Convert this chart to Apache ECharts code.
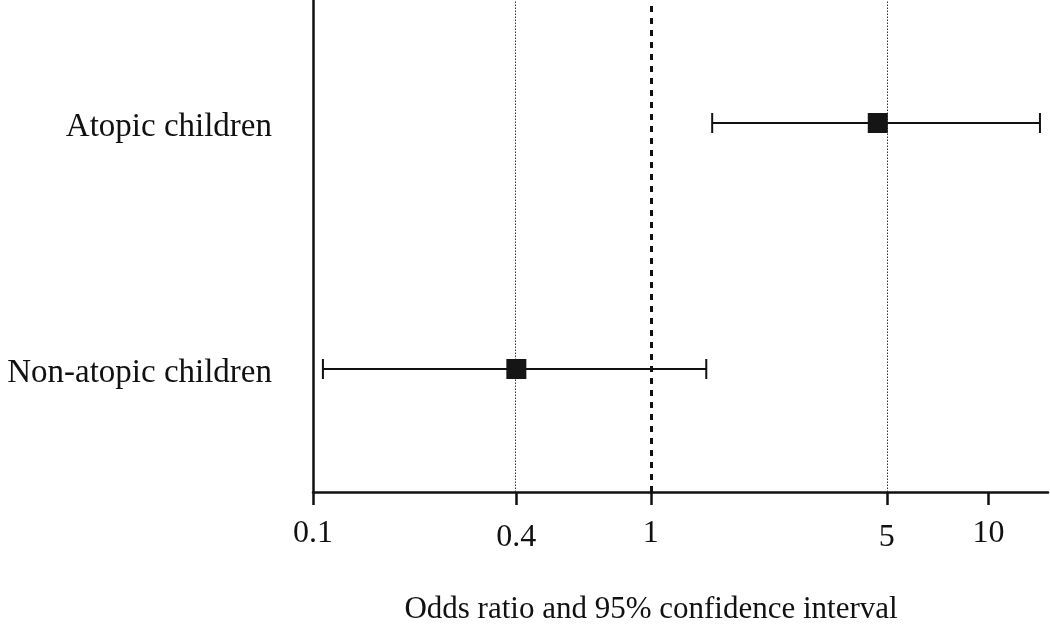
<!DOCTYPE html>
<html>
<head>
<meta charset="utf-8">
<script src="https://cdn.jsdelivr.net/npm/echarts@6/dist/echarts.min.js"></script>
<style>html,body{margin:0;padding:0;background:#fff}#c{width:1050px;height:625px}</style>
</head>
<body>
<div id="c"></div>
<script>
// Data (bottom to top)
const categories = ['Non-atopic children', 'Atopic children'];
const oddsRatio = [0.40, 4.7];
const ciLower = [0.107, 1.52];
const ciUpper = [1.46, 14.2];
const tickValues = [0.1, 0.4, 1, 5, 10];
const tickLabels = ['0.1', '0.4', '1', '5', '10'];
const loweredTicks = ['0.4', '5'];
const dottedRefs = [0.4, 5];
const dashedRefs = [1];
const axisMin = 0.1, axisMax = 15;
const xTitle = 'Odds ratio and 95% confidence interval';

const L = Math.log10;
const FONT = 'Liberation Serif';
const INK = '#111';

const chart = echarts.init(document.getElementById('c'), null, {renderer: 'canvas'});

const errData = categories.map((c, i) => [L(ciLower[i]), L(ciUpper[i]), i]);
const ptData = categories.map((c, i) => [L(oddsRatio[i]), i]);

const markLines = [];
dottedRefs.forEach(v => markLines.push({xAxis: L(v), lineStyle: {type: [1.5, 1.5], width: 1, color: '#333'}}));
dashedRefs.forEach(v => markLines.push({xAxis: L(v), lineStyle: {type: [6, 6], width: 3, color: INK}}));

chart.setOption({
  animation: false,
  backgroundColor: '#fff',
  grid: {left: 313, right: 2, top: 0, bottom: 133, containLabel: false},
  xAxis: {
    type: 'value',
    min: L(axisMin),
    max: L(axisMax),
    splitLine: {show: false},
    axisLine: {show: true, onZero: false, lineStyle: {color: INK, width: 2.5}},
    axisTick: {show: true, customValues: tickValues.map(L), length: 13, lineStyle: {color: INK, width: 2.5}},
    axisLabel: {
      customValues: tickValues.map(L),
      margin: 26,
      fontFamily: FONT, fontSize: 32, color: INK,
      formatter: function (v) {
        let best = 0, bd = Infinity;
        tickValues.forEach((t, i) => { const d = Math.abs(L(t) - v); if (d < bd) { bd = d; best = i; } });
        const lab = tickLabels[best];
        return loweredTicks.indexOf(lab) >= 0 ? '{lo|' + lab + '}' : '{hi|' + lab + '}';
      },
      rich: {
        hi: {fontFamily: FONT, fontSize: 32, color: INK, padding: [0, 0, 0, 0]},
        lo: {fontFamily: FONT, fontSize: 32, color: INK, padding: [4, 0, 0, 0]}
      }
    }
  },
  yAxis: {
    type: 'category',
    data: categories,
    axisLine: {show: true, onZero: false, lineStyle: {color: INK, width: 2.5}},
    axisTick: {show: false},
    splitLine: {show: false},
    axisLabel: {
      fontFamily: FONT, fontSize: 33, color: INK, margin: 41,
      formatter: function (v) { return '{c|' + v + '}'; },
      rich: {c: {fontFamily: FONT, fontSize: 33, color: INK, padding: [9, 0, 0, 0]}}
    }
  },
  graphic: [{
    type: 'text',
    x: 651, y: 610,
    style: {text: xTitle, fontFamily: FONT, fontSize: 31, fill: INK, textAlign: 'center', textVerticalAlign: 'middle'}
  }],
  series: [
    {
      type: 'custom',
      data: errData,
      encode: {x: [0, 1], y: 2},
      z: 3,
      renderItem: function (params, api) {
        const idx = api.value(2);
        const p1 = api.coord([api.value(0), idx]);
        const p2 = api.coord([api.value(1), idx]);
        const h = 10;
        const st = {stroke: INK, lineWidth: 2};
        return {
          type: 'group',
          children: [
            {type: 'line', shape: {x1: p1[0], y1: p1[1], x2: p2[0], y2: p2[1]}, style: st},
            {type: 'line', shape: {x1: p1[0], y1: p1[1] - h, x2: p1[0], y2: p1[1] + h}, style: st},
            {type: 'line', shape: {x1: p2[0], y1: p2[1] - h, x2: p2[0], y2: p2[1] + h}, style: st}
          ]
        };
      }
    },
    {
      type: 'scatter',
      data: ptData,
      symbol: 'rect',
      symbolSize: 20,
      z: 4,
      itemStyle: {color: '#151515', opacity: 1},
      markLine: {
        silent: true,
        symbol: ['none', 'none'],
        label: {show: false},
        z: 2,
        data: markLines
      }
    }
  ]
});
</script>
</body>
</html>
